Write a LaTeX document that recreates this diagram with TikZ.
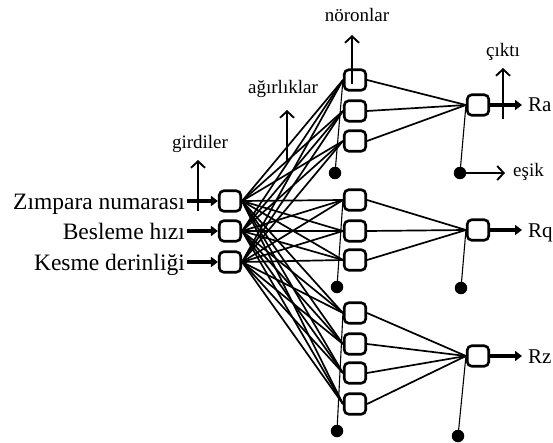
\documentclass[tikz,border=0pt]{standalone}
\usepackage{fontspec}
\setmainfont{Liberation Serif}
\usetikzlibrary{arrows.meta}
\begin{document}
\begin{tikzpicture}[x=1pt,y=-1pt,
  nbox/.style={draw, line width=2.6pt, rounded corners=4.5pt, minimum width=21.5pt, minimum height=20.5pt, inner sep=0pt},
  big/.style={inner sep=0pt, font=\fontsize{23.5}{26}\selectfont},
  small/.style={inner sep=0pt, font=\fontsize{19}{22}\selectfont},
  outlbl/.style={inner sep=0pt, font=\fontsize{21}{24}\selectfont},
  conn/.style={line width=1.7pt},
  biasl/.style={line width=1.1pt},
  dot/.style={circle, fill, inner sep=0pt, minimum size=12.5pt},
  thickarr/.style={line width=3.2pt, -{Triangle[length=7pt,width=10pt]}},
  thinarr/.style={line width=1.9pt, -{Straight Barb[length=6.5pt,width=14pt,line width=1.9pt]}},
]
\useasboundingbox (0,0) rectangle (553,443);
% input boxes
\node[nbox] (i1) at (230,201) {};
\node[nbox] (i2) at (230,231) {};
\node[nbox] (i3) at (230,262) {};
% hidden boxes
\node[nbox] (h1) at (355,80) {};
\node[nbox] (h2) at (355,111) {};
\node[nbox] (h3) at (355,141) {};
\node[nbox] (h4) at (355,200) {};
\node[nbox] (h5) at (355,231) {};
\node[nbox] (h6) at (355,260) {};
\node[nbox] (h7) at (355,313) {};
\node[nbox] (h8) at (355,344) {};
\node[nbox] (h9) at (355,373) {};
\node[nbox] (h10) at (355,404) {};
% outputs
\node[nbox] (o1) at (478,105) {};
\node[nbox] (o2) at (478,230) {};
\node[nbox] (o3) at (478,356) {};
% bias dots
\node[dot] (b1) at (335,173) {};
\node[dot] (b2) at (337,287) {};
\node[dot] (b3) at (337,431) {};
\node[dot] (c1) at (460,173) {};
\node[dot] (c2) at (461,288) {};
\node[dot] (c3) at (458,436) {};
% connections input -> hidden
\foreach \i in {i1,i2,i3}{
  \foreach \h in {h1,h2,h3,h4,h5,h6,h7,h8,h9,h10}{
    \draw[conn] (\i.east) -- (\h.west);
  }
}
% hidden -> output
\foreach \h in {h1,h2,h3}{\draw[conn] (\h.east) -- (o1.west);}
\foreach \h in {h4,h5,h6}{\draw[conn] (\h.east) -- (o2.west);}
\foreach \h in {h7,h8,h9,h10}{\draw[conn] (\h.east) -- (o3.west);}
% bias lines
\draw[biasl] (b1.center) -- (h1.west);
\draw[biasl] (b2.center) -- (h4.west);
\draw[biasl] (b3.center) -- (h7.west);
\draw[biasl] (c1.center) -- (o1.west);
\draw[biasl] (c2.center) -- (o2.west);
\draw[biasl] (c3.center) -- (o3.west);
% input labels
\node[big, anchor=base east] (l1) at (185,210) {Zımpara numarası};
\node[big, anchor=base east] (l2) at (185,240) {Besleme hızı};
\node[big, anchor=base east] (l3) at (185,270) {Kesme derinliği};
\draw[thickarr] ([xshift=2pt]l1.east |- i1.west) -- (i1.west);
\draw[thickarr] ([xshift=2pt]l2.east |- i2.west) -- (i2.west);
\draw[thickarr] ([xshift=2pt]l3.east |- i3.west) -- (i3.west);
% output labels
\node[outlbl, anchor=base west] (ra) at (528,112) {Ra};
\node[outlbl, anchor=base west] (rq) at (528,237) {Rq};
\node[outlbl, anchor=base west] (rz) at (528,363) {Rz};
\draw[thickarr] (o1.east) -- ([xshift=-6pt]ra.west |- o1.east);
\draw[thickarr] (o2.east) -- ([xshift=-6pt]rq.west |- o2.east);
\draw[thickarr] (o3.east) -- ([xshift=-6pt]rz.west |- o3.east);
% annotation labels and arrows
\node[small, anchor=base] (tg) at (200,149) {girdiler};
\node[small, anchor=base] (ta) at (283,94) {ağırlıklar};
\node[small, anchor=base] (tn) at (357,22) {nöronlar};
\node[small, anchor=base] (tc) at (503,57) {çıktı};
\node[small, anchor=base west] (te) at (513,177) {eşik};
\coordinate (ga) at (198,211);
\coordinate (aa) at (287,162);
\coordinate (na) at (352,84);
\coordinate (ca) at (503,119);
\draw[thinarr] (ga) -- (ga |- 0,160);
\draw[thinarr] (aa) -- (aa |- 0,110);
\draw[thinarr] (na) -- (na |- 0,35);
\draw[thinarr] (ca) -- (ca |- 0,68);
\draw[thinarr] (c1.center) -- ([xshift=-8pt]te.west |- c1.center);
\end{tikzpicture}
\end{document}
